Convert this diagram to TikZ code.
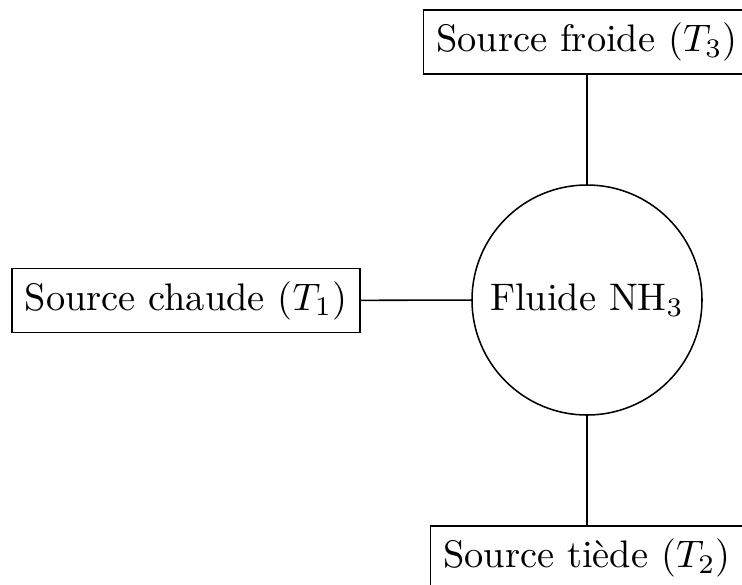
\documentclass[tikz,border=0pt]{standalone}
\begin{document}
\begin{tikzpicture}[x=0.2604pt,y=-0.2604pt,
  srcbox/.style={draw,rectangle,inner sep=3.33pt},
  fluid/.style={draw,circle,minimum size=59.9pt,inner sep=0pt}]
\clip (0,0) rectangle (742,584);
\node[fluid] (f) at (587,300) {Fluide NH$_3$};
\node[srcbox] (top) at (587,42) {Source froide ($T_3$)};
\node[srcbox] (left) at (186,300.5) {Source chaude ($T_1$)};
\node[srcbox] (bot) at (587,558) {Source tiède ($T_2$)};
\draw (f) -- (top);
\draw (f) -- (left);
\draw (f) -- (bot);
\end{tikzpicture}
\end{document}
